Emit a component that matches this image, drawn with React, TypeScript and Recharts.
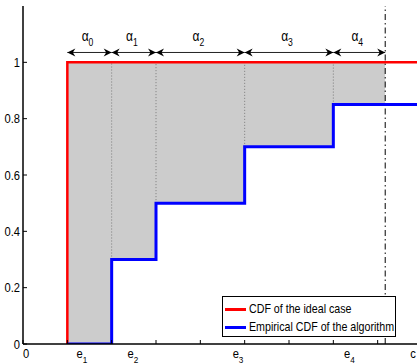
import { ComposedChart, Line, Area, XAxis, YAxis, ReferenceLine, Legend } from 'recharts';

// x positions where the empirical CDF jumps, and its value after each jump
const stepX = [1, 2, 3, 5, 7, 9];
const empiricalCdf = [0, 0.3, 0.5, 0.7, 0.85, 0.85];

// ideal CDF: jumps straight to 1 at x = 1
const idealX = [1, 1, 9];
const idealCdf = [0, 1, 1];

// dash-dot cut line, and the alpha intervals
const cutoffX = 8.17;
const alphaBounds = [1, 2, 3, 5, 7, cutoffX];
const arrowY = 1.035;

const yTicks = [0, 0.2, 0.4, 0.6, 0.8, 1];
const xTickMarks = [0, 1, 2, 3, 4, 5, 6, 7, 8, 9];
const xLabelPos = [0.07, 1.33, 2.48, 4.85, 7.36, 8.8];
const xLabelMain = ['0', 'e', 'e', 'e', 'e', 'c'];
const xLabelSub = ['', '1', '2', '3', '4', ''];

const FONT = '"Liberation Sans", Arial, sans-serif';
// the original text is a condensed Helvetica
const SQUEEZE = 0.86;

const empiricalData = stepX.map((x, i) => ({ x, y: empiricalCdf[i] }));
const idealData = idealX.map((x, i) => ({ x, y: idealCdf[i] }));
// shaded gap between the empirical CDF and 1, up to the cut line
const gapData = [...stepX.filter((x) => x < cutoffX), cutoffX].map((x) => {
    const idx = stepX.filter((s) => s <= x).length - 1;
    return { x, range: [empiricalCdf[idx], 1] };
});

const BottomTick = (props: any) => {
    const { x, y, payload } = props;
    const li = xLabelPos.indexOf(payload.value);
    if (li >= 0) {
        return (
            <text
                transform={`translate(${x},${y + 14}) scale(${SQUEEZE},1)`}
                textAnchor="middle"
                fontFamily={FONT}
                fontSize={13}
                fill="#000"
            >
                {xLabelMain[li]}
                {xLabelSub[li] && (
                    <tspan dy={5} fontSize={9.5}>{xLabelSub[li]}</tspan>
                )}
            </text>
        );
    }
    return <line x1={x} y1={y} x2={x} y2={y - 4} stroke="#000" />;
};

const TopTick = (props: any) => {
    const { x, y } = props;
    return <line x1={x} y1={y} x2={x} y2={y + 4} stroke="#000" />;
};

const LeftTick = (props: any) => {
    const { x, y, payload } = props;
    return (
        <g>
            <line x1={x} y1={y} x2={x + 4} y2={y} stroke="#000" />
            <text
                transform={`translate(${x - 3},${y + 4.5}) scale(${SQUEEZE},1)`}
                textAnchor="end"
                fontFamily={FONT}
                fontSize={13}
                fill="#000"
            >
                {String(payload.value)}
            </text>
        </g>
    );
};

const RightTick = (props: any) => {
    const { x, y } = props;
    return <line x1={x} y1={y} x2={x - 4} y2={y} stroke="#000" />;
};

const head = (tx: number, ty: number, dir: number) => {
    const len = 8;
    const half = 4;
    const notch = 2.5;
    return `${tx},${ty} ${tx - dir * len},${ty - half} ${tx - dir * (len - notch)},${ty} ${tx - dir * len},${ty + half}`;
};

const AlphaArrow = (props: any) => {
    const { x1, y1, x2, idx } = props;
    const mx = (x1 + x2) / 2;
    return (
        <g>
            <line x1={x1} y1={y1} x2={x2} y2={y1} stroke="#222" strokeWidth={1} />
            <polygon points={head(x1, y1, -1)} fill="#000" />
            <polygon points={head(x2, y1, 1)} fill="#000" />
            <text
                transform={`translate(${mx - 2},${y1 - 11}) scale(${SQUEEZE},1)`}
                textAnchor="middle"
                fontFamily={FONT}
                fontSize={14}
                fill="#000"
            >
                α<tspan dy={5} fontSize={10}>{idx}</tspan>
            </text>
        </g>
    );
};

const LegendBox = (props: any) => {
    const items = (props.payload || []).filter((p: any) => p.type !== 'none');
    return (
        <div
            style={{
                width: 174,
                height: 41,
                boxSizing: 'border-box',
                border: '1px solid #000',
                background: '#fff',
                padding: '3px 0 0 2px',
                overflow: 'hidden',
                fontFamily: FONT,
                fontSize: 13,
                lineHeight: '18px',
                whiteSpace: 'nowrap',
            }}
        >
            {items.map((p: any) => (
                <div key={p.value} style={{ display: 'flex', alignItems: 'center' }}>
                    <span style={{ display: 'inline-block', width: 21, height: 3, background: p.color, marginRight: 3, flex: 'none' }} />
                    <span style={{ display: 'inline-block', transform: `scaleX(${SQUEEZE - 0.04})`, transformOrigin: 'left center' }}>
                        {p.value}
                    </span>
                </div>
            ))}
        </div>
    );
};

export default function App() {
    return (
        <div style={{ position: 'fixed', left: 0, top: 0, width: 417, height: 364, overflow: 'hidden', background: '#fff' }}>
            <ComposedChart width={430} height={364} margin={{ top: 6, right: 8, bottom: 0, left: 0 }}>
                <XAxis
                    xAxisId="b"
                    type="number"
                    dataKey="x"
                    domain={[0, 9]}
                    ticks={[...xTickMarks, ...xLabelPos].sort((a, b) => a - b)}
                    interval={0}
                    height={20}
                    tickSize={0}
                    tickMargin={0}
                    tickLine={false}
                    tick={<BottomTick />}
                    axisLine={{ stroke: '#000', strokeWidth: 1.5 }}
                    allowDataOverflow
                />
                <XAxis
                    xAxisId="t"
                    orientation="top"
                    type="number"
                    dataKey="x"
                    domain={[0, 9]}
                    ticks={xTickMarks}
                    interval={0}
                    height={0}
                    tickSize={0}
                    tickMargin={0}
                    tickLine={false}
                    tick={<TopTick />}
                    axisLine={{ stroke: '#000', strokeWidth: 1.5 }}
                    allowDataOverflow
                />
                <YAxis
                    type="number"
                    domain={[0, 1.2]}
                    ticks={yTicks}
                    interval={0}
                    width={23}
                    tickSize={0}
                    tickMargin={0}
                    tickLine={false}
                    tick={<LeftTick />}
                    axisLine={{ stroke: '#000', strokeWidth: 1.5 }}
                    allowDataOverflow
                />
                <YAxis
                    yAxisId="r"
                    orientation="right"
                    type="number"
                    domain={[0, 1.2]}
                    ticks={yTicks}
                    interval={0}
                    width={0}
                    tickSize={0}
                    tickMargin={0}
                    tickLine={false}
                    tick={<RightTick />}
                    axisLine={{ stroke: '#000', strokeWidth: 1.5 }}
                />
                <Area
                    xAxisId="b"
                    data={gapData}
                    dataKey="range"
                    type="stepAfter"
                    fill="#cccccc"
                    fillOpacity={1}
                    stroke="none"
                    legendType="none"
                    isAnimationActive={false}
                />
                {stepX.slice(1, 5).map((x, i) => (
                    <ReferenceLine
                        key={`dot-${x}`}
                        xAxisId="b"
                        segment={[{ x, y: empiricalCdf[i + 1] }, { x, y: 1 }]}
                        stroke="#7a7a7a"
                        strokeDasharray="1 2"
                    />
                ))}
                <ReferenceLine xAxisId="b" x={cutoffX} stroke="#000" strokeDasharray="6 3 1.5 3" />
                {alphaBounds.slice(0, -1).map((x, i) => (
                    <ReferenceLine
                        key={`alpha-${i}`}
                        xAxisId="b"
                        segment={[{ x, y: arrowY }, { x: alphaBounds[i + 1], y: arrowY }]}
                        shape={(p: any) => <AlphaArrow {...p} idx={i} />}
                    />
                ))}
                <Line
                    xAxisId="b"
                    data={idealData}
                    dataKey="y"
                    name="CDF of the ideal case"
                    type="linear"
                    stroke="#ff0000"
                    strokeWidth={2.5}
                    dot={false}
                    isAnimationActive={false}
                />
                <Line
                    xAxisId="b"
                    data={empiricalData}
                    dataKey="y"
                    name="Empirical CDF of the algorithm"
                    type="stepAfter"
                    stroke="#0000ff"
                    strokeWidth={3}
                    dot={false}
                    isAnimationActive={false}
                />
                <Legend
                    layout="vertical"
                    align="center"
                    verticalAlign="middle"
                    content={<LegendBox />}
                    wrapperStyle={{ left: 222, top: 296, bottom: 'auto', right: 'auto', width: 'auto' }}
                />
            </ComposedChart>
        </div>
    );
}
